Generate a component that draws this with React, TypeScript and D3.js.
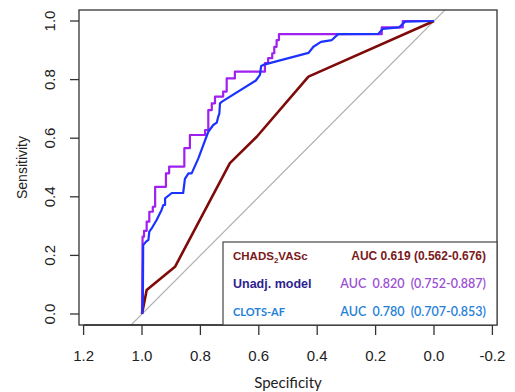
import React, { useEffect, useRef } from 'react';
import * as d3 from 'd3';

// ROC curves: specificity (x, reversed) and sensitivity (y)
const chadsSpec = [1.0, 0.984, 0.887, 0.699, 0.607, 0.43, 0.0];
const chadsSens = [0.0, 0.082, 0.161, 0.515, 0.605, 0.81, 1.0];

const unadjSpec = [
  1.0, 0.998, 0.993, 0.993, 0.984, 0.984, 0.975, 0.975, 0.963, 0.963, 0.955, 0.955,
  0.918, 0.918, 0.907, 0.907, 0.855, 0.855, 0.836, 0.836, 0.784, 0.784, 0.773, 0.773,
  0.761, 0.761, 0.75, 0.75, 0.722, 0.722, 0.71, 0.71, 0.682, 0.682, 0.579, 0.579,
  0.568, 0.568, 0.554, 0.554, 0.547, 0.547, 0.539, 0.539, 0.531, 0.531, 0.179, 0.179,
  0.107, 0.107, 0.0,
];
const unadjSens = [
  0.0, 0.264, 0.264, 0.284, 0.284, 0.315, 0.315, 0.349, 0.349, 0.366, 0.366, 0.434,
  0.434, 0.48, 0.48, 0.503, 0.503, 0.566, 0.566, 0.611, 0.611, 0.628, 0.628, 0.696,
  0.696, 0.719, 0.719, 0.742, 0.742, 0.759, 0.759, 0.804, 0.804, 0.827, 0.827, 0.856,
  0.856, 0.873, 0.873, 0.89, 0.89, 0.912, 0.912, 0.935, 0.935, 0.955, 0.955, 0.978,
  0.978, 1.0, 1.0,
];

const clotsSpec = [
  1.0, 0.997, 0.996, 0.986, 0.978, 0.975, 0.967, 0.95, 0.933, 0.927, 0.921, 0.921,
  0.898, 0.859, 0.853, 0.841, 0.83, 0.807, 0.773, 0.756, 0.744, 0.739, 0.735, 0.733,
  0.726, 0.61, 0.596, 0.592, 0.579, 0.43, 0.413, 0.387, 0.35, 0.328, 0.191, 0.176,
  0.12, 0.099, 0.0,
];
const clotsSens = [
  0.0, 0.048, 0.235, 0.247, 0.253, 0.281, 0.292, 0.321, 0.355, 0.372, 0.372, 0.395,
  0.413, 0.413, 0.461, 0.48, 0.48, 0.531, 0.622, 0.645, 0.653, 0.673, 0.685, 0.719,
  0.725, 0.797, 0.816, 0.846, 0.852, 0.891, 0.912, 0.929, 0.935, 0.955, 0.956, 0.973,
  0.978, 0.998, 1.0,
];

const specTicks = [1.2, 1.0, 0.8, 0.6, 0.4, 0.2, 0.0, -0.2];
const sensTicks = [0.0, 0.2, 0.4, 0.6, 0.8, 1.0];

const legendNames = ['CHADS₂VASc', 'Unadj. model', 'CLOTS-AF'];
const legendAuc = ['AUC 0.619 (0.562-0.676)', 'AUC  0.820  (0.752-0.887)', 'AUC  0.780  (0.707-0.853)'];

const App = () => {
  const svgRef = useRef<SVGSVGElement>(null);

  useEffect(() => {
    const svg = d3.select(svgRef.current);
    svg.selectAll('*').remove();

    const box = { left: 79, right: 497, top: 10, bottom: 325 };
    const x = d3.scaleLinear().domain([1, 0]).range([142, 434]);
    const y = d3.scaleLinear().domain([0, 1]).range([314, 21]);
    const fmt = (d: number) => d.toFixed(1);

    svg.append('defs').append('clipPath').attr('id', 'plotclip')
      .append('rect')
      .attr('x', box.left).attr('y', box.top)
      .attr('width', box.right - box.left).attr('height', box.bottom - box.top);

    const plot = svg.append('g').attr('clip-path', 'url(#plotclip)');

    // reference diagonal
    plot.append('line')
      .attr('x1', x(1.2)).attr('y1', y(-0.2))
      .attr('x2', x(-0.2)).attr('y2', y(1.2))
      .attr('stroke', '#b0b0b0')
      .attr('stroke-width', 1.2);

    const line = d3.line<[number, number]>()
      .x(d => x(d[0]))
      .y(d => y(d[1]));

    const curves = [
      { spec: chadsSpec, sens: chadsSens, color: '#7f0a0a', width: 2.6 },
      { spec: unadjSpec, sens: unadjSens, color: '#a020f0', width: 2.2 },
      { spec: clotsSpec, sens: clotsSens, color: '#1c32ff', width: 2.2 },
    ];
    curves.forEach(c => {
      const pts = c.spec.map((s, i) => [s, c.sens[i]] as [number, number]);
      plot.append('path')
        .datum(pts)
        .attr('d', line)
        .attr('fill', 'none')
        .attr('stroke', c.color)
        .attr('stroke-width', c.width)
        .attr('stroke-linejoin', 'round');
    });

    // frame
    svg.append('rect')
      .attr('x', box.left).attr('y', box.top)
      .attr('width', box.right - box.left).attr('height', box.bottom - box.top)
      .attr('fill', 'none')
      .attr('stroke', '#333')
      .attr('stroke-width', 1.3);

    // x axis
    const xa = svg.append('g');
    xa.append('line')
      .attr('x1', x(1.2)).attr('x2', x(-0.2))
      .attr('y1', box.bottom).attr('y2', box.bottom)
      .attr('stroke', '#333').attr('stroke-width', 1.3);
    xa.selectAll('.xt').data(specTicks).enter().append('line')
      .attr('x1', d => x(d)).attr('x2', d => x(d))
      .attr('y1', box.bottom).attr('y2', box.bottom + 10)
      .attr('stroke', '#333').attr('stroke-width', 1.3);
    xa.selectAll('.xl').data(specTicks).enter().append('text')
      .attr('x', d => x(d)).attr('y', 361)
      .attr('text-anchor', 'middle')
      .style('font-family', '"Liberation Sans", Arial, sans-serif')
      .style('font-size', '15px')
      .attr('fill', '#222')
      .text(fmt);
    svg.append('text')
      .attr('x', 288).attr('y', 388)
      .attr('text-anchor', 'middle')
      .style('font-family', 'Lato, "Open Sans", sans-serif')
      .style('font-size', '15px')
      .attr('fill', '#222')
      .text('Specificity');

    // y axis
    const ya = svg.append('g');
    ya.selectAll('.yt').data(sensTicks).enter().append('line')
      .attr('x1', box.left - 9).attr('x2', box.left)
      .attr('y1', d => y(d)).attr('y2', d => y(d))
      .attr('stroke', '#333').attr('stroke-width', 1.3);
    ya.selectAll('.yl').data(sensTicks).enter().append('text')
      .attr('transform', d => `translate(55,${y(d)}) rotate(-90)`)
      .attr('text-anchor', 'middle')
      .style('font-family', '"Liberation Sans", Arial, sans-serif')
      .style('font-size', '15px')
      .attr('fill', '#222')
      .text(fmt);
    svg.append('text')
      .attr('transform', `translate(27,${(box.top + box.bottom) / 2}) rotate(-90)`)
      .attr('text-anchor', 'middle')
      .style('font-family', '"Liberation Sans", Arial, sans-serif')
      .style('font-size', '14px')
      .attr('fill', '#222')
      .text('Sensitivity');

    // legend
    const lg = svg.append('g');
    lg.append('rect')
      .attr('x', 223).attr('y', 242)
      .attr('width', box.right - 223).attr('height', box.bottom - 242)
      .attr('fill', '#fff')
      .attr('stroke', '#444')
      .attr('stroke-width', 1.2);

    const nameStyles = [
      { color: '#7a1a1a', font: '"Liberation Sans", Arial, sans-serif', size: 11.5, weight: 700 },
      { color: '#2e1f8e', font: '"Liberation Sans", Arial, sans-serif', size: 12.5, weight: 700 },
      { color: '#1f80d8', font: 'Lato, sans-serif', size: 11, weight: 700 },
    ];
    const aucStyles = [
      { color: '#7a1a1a', font: '"Liberation Sans", Arial, sans-serif', size: 12, weight: 700 },
      { color: '#9b4fd4', font: 'Lato, sans-serif', size: 12.5, weight: 600 },
      { color: '#1f80d8', font: 'Lato, sans-serif', size: 12.5, weight: 600 },
    ];
    const rowY = [260, 288, 316];

    legendNames.forEach((name, i) => {
      const st = nameStyles[i];
      const t = lg.append('text')
        .attr('x', 233).attr('y', rowY[i])
        .style('font-family', st.font)
        .style('font-size', `${st.size}px`)
        .style('font-weight', st.weight)
        .attr('fill', st.color);
      if (name.includes('₂')) {
        const [a, b] = name.split('₂');
        t.append('tspan').text(a);
        t.append('tspan').attr('dy', 3).style('font-size', '8px').text('2');
        t.append('tspan').attr('dy', -3).text(b);
      } else {
        t.text(name);
      }

      const as = aucStyles[i];
      lg.append('text')
        .attr('x', 486).attr('y', rowY[i])
        .attr('text-anchor', 'end')
        .style('font-family', as.font)
        .style('font-size', `${as.size}px`)
        .style('font-weight', as.weight)
        .style('white-space', 'pre')
        .attr('fill', as.color)
        .text(legendAuc[i]);
    });
  }, []);

  return (
    <svg
      ref={svgRef}
      width={515}
      height={392}
      style={{ position: 'absolute', left: 0, top: 0, background: '#fff' }}
    />
  );
};

export default App;
